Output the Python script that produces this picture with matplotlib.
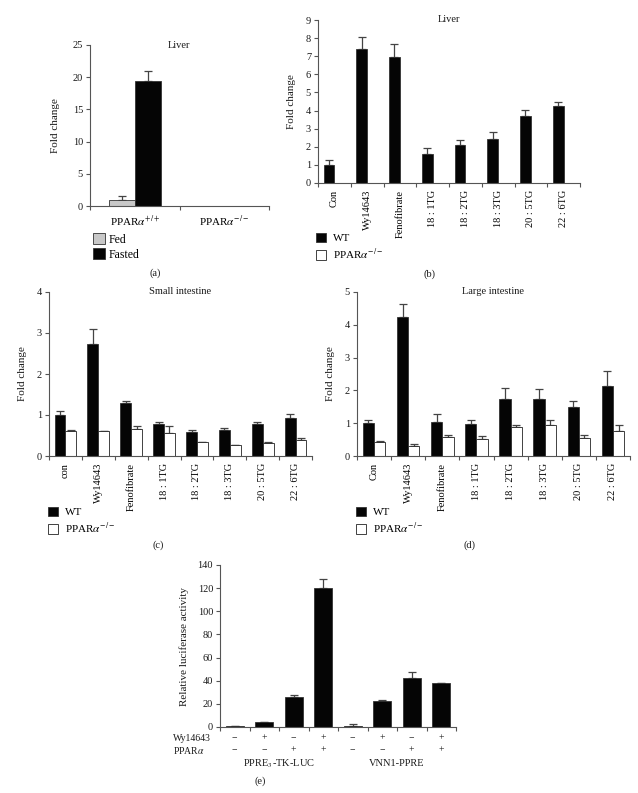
import numpy as np
import matplotlib
matplotlib.use("Agg")
import matplotlib.pyplot as plt

plt.rcParams['font.family'] = ['Liberation Serif', 'DejaVu Serif']
plt.rcParams['mathtext.fontset'] = 'stix'
plt.rcParams['font.size'] = 7.5
plt.rcParams['axes.linewidth'] = 0.8

# ---------------- data ----------------
a_groups = [r'PPAR$\alpha^{+/+}$', r'PPAR$\alpha^{-/-}$']
a_fed = [0.93, 0.0]
a_fed_err = [0.67, 0.0]
a_fasted = [19.4, 0.0]
a_fasted_err = [1.5, 0.0]

treatments = ['Con', 'Wy14643', 'Fenofibrate', '18 : 1TG', '18 : 2TG', '18 : 3TG', '20 : 5TG', '22 : 6TG']
treatments_c = ['con', 'Wy14643', 'Fenofibrate', '18 : 1TG', '18 : 2TG', '18 : 3TG', '20 : 5TG', '22 : 6TG']

b_wt = [1.01, 7.38, 6.95, 1.62, 2.08, 2.45, 3.69, 4.26]
b_wt_err = [0.28, 0.66, 0.72, 0.30, 0.32, 0.34, 0.33, 0.20]
b_ko = [0, 0, 0, 0, 0, 0, 0, 0]

c_wt = [1.00, 2.73, 1.29, 0.78, 0.59, 0.64, 0.78, 0.93]
c_wt_err = [0.09, 0.37, 0.05, 0.06, 0.04, 0.05, 0.04, 0.09]
c_ko = [0.61, 0.60, 0.65, 0.55, 0.33, 0.27, 0.32, 0.38]
c_ko_err = [0.02, 0.01, 0.07, 0.17, 0.0, 0.01, 0.01, 0.07]

d_wt = [1.01, 4.23, 1.04, 0.98, 1.74, 1.74, 1.49, 2.12]
d_wt_err = [0.10, 0.40, 0.23, 0.13, 0.33, 0.29, 0.19, 0.48]
d_ko = [0.42, 0.29, 0.57, 0.52, 0.87, 0.96, 0.55, 0.76]
d_ko_err = [0.05, 0.09, 0.08, 0.10, 0.08, 0.15, 0.10, 0.20]

e_values = [0.9, 4.6, 26.2, 119.9, 1.15, 22.4, 42.5, 37.9]
e_err = [0.0, 0.0, 1.1, 8.3, 1.45, 1.2, 4.6, 0.0]
e_wy = ['−', '+', '−', '+', '−', '+', '−', '+']
e_ppar = ['−', '−', '+', '+', '−', '−', '+', '+']
e_groups = [r'PPRE$_3$-TK-LUC', 'VNN1-PPRE']

# ---------------- figure ----------------
W, H = 638, 793
fig = plt.figure(figsize=(W / 100, H / 100), dpi=100)

SPINE = '#555555'
ERRC = '#444444'
TXT = '#1a1a1a'


def add_ax(l, r, t, b):
    return fig.add_axes([l / W, 1 - b / H, (r - l) / W, (b - t) / H])


def style(ax, ymax, ystep, ncat):
    for s in ['top', 'right']:
        ax.spines[s].set_visible(False)
    for s in ['left', 'bottom']:
        ax.spines[s].set_color(SPINE)
        ax.spines[s].set_linewidth(0.8)
    ax.set_ylim(0, ymax)
    ax.set_yticks(np.arange(0, ymax + 0.001, ystep))
    ax.set_xlim(-0.5, ncat - 0.5)
    ax.set_xticks(np.arange(-0.5, ncat, 1.0))
    ax.set_xticklabels([])
    ax.tick_params(axis='both', which='major', direction='out', length=3,
                   width=0.8, color=SPINE, labelcolor=TXT, labelsize=7.5, pad=2)
    ax.tick_params(axis='x', which='minor', length=0)


def ebar(ax, x, y, err):
    err = np.asarray(err, float)
    ax.errorbar(x, y, yerr=[np.zeros_like(err), err], fmt='none',
                ecolor=ERRC, elinewidth=0.9, capsize=3, capthick=0.9, zorder=1)


def flbl(x, y, s, **kw):
    fig.text(x / W, 1 - y / H, s, color=TXT, **kw)


# ---- (a) ----
ax = add_ax(90, 269, 45, 206)
style(ax, 25, 5, 2)
xa = np.arange(len(a_groups))
ebar(ax, xa[:1] - 0.145, a_fed[:1], a_fed_err[:1])
ebar(ax, xa[:1] + 0.145, a_fasted[:1], a_fasted_err[:1])
bf = ax.bar(xa - 0.145, a_fed, 0.29, color='#c8c8c8', edgecolor='#333333', linewidth=0.6, zorder=2, label='Fed')
bfa = ax.bar(xa + 0.145, a_fasted, 0.29, color='#050505', edgecolor='#333333', linewidth=0.6, zorder=2, label='Fasted')
ax.set_xticks(xa, minor=True)
ax.set_xticklabels(a_groups, minor=True, fontsize=8)
ax.tick_params(axis='x', which='minor', pad=6)
ax.set_ylabel('Fold change', fontsize=8, color=TXT, labelpad=9)
ax.text(0.5, 1.0, 'Liver', transform=ax.transAxes, ha='center', va='center', fontsize=7.5, color=TXT)
fig.legend(handles=[bf, bfa], labels=['Fed', 'Fasted'], loc='upper left',
           bbox_to_anchor=(93 / W, 1 - 233 / H), frameon=False, fontsize=8.5,
           handlelength=1.0, handleheight=1.1, handletextpad=0.35,
           labelspacing=0.2, borderpad=0, borderaxespad=0)
flbl(155, 273, '(a)', ha='center', va='center', fontsize=7.5)


def grouped(ax, labels, wt, wt_err, ko, ko_err, ymax, ystep, title):
    n = len(labels)
    x = np.arange(n)
    style(ax, ymax, ystep, n)
    ebar(ax, x - 0.165, wt, wt_err)
    if ko_err is not None:
        ebar(ax, x + 0.165, ko, ko_err)
    bw = ax.bar(x - 0.165, wt, 0.33, color='#050505', edgecolor='#333333', linewidth=0.6, zorder=2)
    bk = ax.bar(x + 0.165, ko, 0.33, color='white', edgecolor='#222222', linewidth=0.6, zorder=2)
    ax.set_xticks(x, minor=True)
    ax.set_xticklabels(labels, minor=True, rotation=90, fontsize=7.5, va='top')
    ax.tick_params(axis='x', which='minor', pad=5)
    ax.set_ylabel('Fold change', fontsize=8, color=TXT, labelpad=7)
    ax.text(0.5, 1.0, title, transform=ax.transAxes, ha='center', va='center', fontsize=7.5, color=TXT)
    return bw, bk


def glegend(handles, x, y):
    fig.legend(handles=handles, labels=['WT', r'PPAR$\alpha^{-/-}$'], loc='upper left',
               bbox_to_anchor=(x / W, 1 - y / H), frameon=False, fontsize=8,
               handlelength=0.9, handleheight=0.9, handletextpad=0.6,
               labelspacing=0.3, borderpad=0, borderaxespad=0)


# ---- (b) ----
ax = add_ax(318, 580, 20, 183)
h = grouped(ax, treatments, b_wt, b_wt_err, b_ko, None, 9, 1, 'Liver')
glegend(h, 316, 233)
flbl(430, 274, '(b)', ha='center', va='center', fontsize=7.5)

# ---- (c) ----
ax = add_ax(49, 312, 292, 456)
h = grouped(ax, treatments_c, c_wt, c_wt_err, c_ko, c_ko_err, 4, 1, 'Small intestine')
glegend(h, 48, 507)
flbl(158, 545, '(c)', ha='center', va='center', fontsize=7.5)

# ---- (d) ----
ax = add_ax(357, 630, 292, 456)
h = grouped(ax, treatments, d_wt, d_wt_err, d_ko, d_ko_err, 5, 1, 'Large intestine')
glegend(h, 356, 507)
flbl(470, 545, '(d)', ha='center', va='center', fontsize=7.5)

# ---- (e) ----
ax = add_ax(220, 456, 565, 727)
n = len(e_values)
xe = np.arange(n)
style(ax, 140, 20, n)
ebar(ax, xe, e_values, e_err)
ax.bar(xe, e_values, 0.62, color='#050505', edgecolor='#333333', linewidth=0.6, zorder=2)
ax.set_ylabel('Relative luciferase activity', fontsize=8, color=TXT, labelpad=6)
trans = ax.get_xaxis_transform()
r1, r2, r3 = -0.068, -0.142, -0.228
for i in range(n):
    ax.text(xe[i], r1, e_wy[i], transform=trans, ha='center', va='center', fontsize=7, color=TXT)
    ax.text(xe[i], r2, e_ppar[i], transform=trans, ha='center', va='center', fontsize=7, color=TXT)
ax.text(-0.200, r1, 'Wy14643', transform=ax.transAxes, ha='left', va='center', fontsize=7, color=TXT)
ax.text(-0.200, r2, r'PPAR$\alpha$', transform=ax.transAxes, ha='left', va='center', fontsize=7, color=TXT)
ax.text(1.5, r3, e_groups[0], transform=trans, ha='center', va='center', fontsize=7.5, color=TXT)
ax.text(5.5, r3, e_groups[1], transform=trans, ha='center', va='center', fontsize=7.5, color=TXT)
flbl(260, 781, '(e)', ha='center', va='center', fontsize=7.5)

fig.savefig('out.png', dpi=100)
